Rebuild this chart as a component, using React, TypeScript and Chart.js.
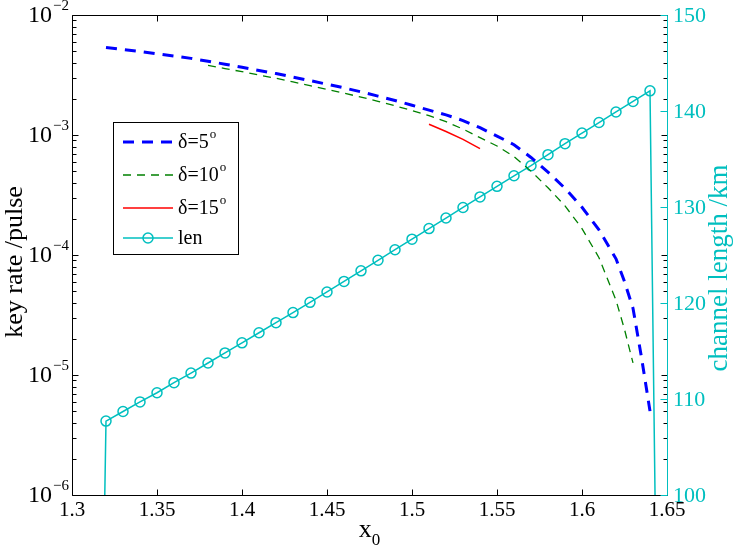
import React, { useEffect, useRef } from 'react';
import { Chart, registerables } from 'chart.js';

Chart.register(...registerables);

// ---------------- data ----------------
const x5 = [1.32, 1.33, 1.34, 1.35, 1.36, 1.37, 1.38, 1.39, 1.4, 1.41, 1.42, 1.43, 1.44, 1.45, 1.46, 1.47, 1.48, 1.49, 1.5, 1.51, 1.52, 1.53, 1.54, 1.55, 1.56, 1.57, 1.58, 1.59, 1.6, 1.61, 1.62, 1.625, 1.63, 1.635, 1.64];
const rate5 = [5.37e-3, 5.16e-3, 4.97e-3, 4.75e-3, 4.55e-3, 4.35e-3, 4.12e-3, 3.89e-3, 3.67e-3, 3.45e-3, 3.25e-3, 3.04e-3, 2.84e-3, 2.65e-3, 2.47e-3, 2.29e-3, 2.11e-3, 1.94e-3, 1.77e-3, 1.61e-3, 1.47e-3, 1.32e-3, 1.15e-3, 9.8e-4, 8.3e-4, 6.5e-4, 4.9e-4, 3.6e-4, 2.5e-4, 1.62e-4, 9.3e-5, 6.0e-5, 3.6e-5, 1.4e-5, 5.0e-6];

const x10 = [1.38, 1.39, 1.4, 1.41, 1.42, 1.43, 1.44, 1.45, 1.46, 1.47, 1.48, 1.49, 1.5, 1.51, 1.52, 1.53, 1.54, 1.55, 1.56, 1.57, 1.58, 1.59, 1.6, 1.61, 1.62, 1.625, 1.63];
const rate10 = [3.8e-3, 3.58e-3, 3.37e-3, 3.16e-3, 2.97e-3, 2.77e-3, 2.58e-3, 2.4e-3, 2.23e-3, 2.07e-3, 1.91e-3, 1.75e-3, 1.6e-3, 1.45e-3, 1.29e-3, 1.12e-3, 9.5e-4, 8.1e-4, 6.6e-4, 5.0e-4, 3.63e-4, 2.57e-4, 1.66e-4, 9.5e-5, 4.2e-5, 2.4e-5, 1.26e-5];

const x15 = [1.51, 1.52, 1.53, 1.54];
const rate15 = [1.23e-3, 1.07e-3, 9.2e-4, 7.7e-4];

const xLen = [1.31, 1.32, 1.33, 1.34, 1.35, 1.36, 1.37, 1.38, 1.39, 1.4, 1.41, 1.42, 1.43, 1.44, 1.45, 1.46, 1.47, 1.48, 1.49, 1.5, 1.51, 1.52, 1.53, 1.54, 1.55, 1.56, 1.57, 1.58, 1.59, 1.6, 1.61, 1.62, 1.63, 1.64, 1.65];
const lenKm = [0, 107.7, 108.7, 109.7, 110.65, 111.7, 112.7, 113.75, 114.8, 115.85, 116.9, 117.95, 119.0, 120.07, 121.15, 122.25, 123.35, 124.45, 125.55, 126.65, 127.75, 128.85, 129.95, 131.05, 132.15, 133.25, 134.3, 135.45, 136.6, 137.7, 138.8, 139.9, 141.0, 142.1, 0];

const xTicks = [1.3, 1.35, 1.4, 1.45, 1.5, 1.55, 1.6, 1.65];
const xTickLabels = ['1.3', '1.35', '1.4', '1.45', '1.5', '1.55', '1.6', '1.65'];
const logExponents = [-6, -5, -4, -3, -2];
const rightTicks = [100, 110, 120, 130, 140, 150];

const legendLabels = ['δ=5', 'δ=10', 'δ=15', 'len'];
const legendSups = ['o', 'o', 'o', ''];

// ---------------- styles ----------------
const BLUE = '#0000ff';
const GREEN = '#008000';
const RED = '#ff0000';
const CYAN = '#00bfbf';
const SERIF = '"Liberation Serif", "Times New Roman", serif';

const toXY = (xs: number[], ys: number[]) => xs.map((x, i) => ({ x, y: ys[i] }));

function textWithSup(
  ctx: CanvasRenderingContext2D,
  base: string,
  sup: string,
  x: number,
  y: number,
  align: 'left' | 'right',
  baseSize: number,
  supSize: number,
  supRaise: number
) {
  ctx.textBaseline = 'middle';
  ctx.textAlign = 'left';
  ctx.font = `${baseSize}px ${SERIF}`;
  const wb = ctx.measureText(base).width;
  ctx.font = `${supSize}px ${SERIF}`;
  const ws = sup ? ctx.measureText(sup).width : 0;
  const x0 = align === 'right' ? x - wb - ws - 1 : x;
  ctx.font = `${baseSize}px ${SERIF}`;
  ctx.fillText(base, x0, y);
  if (sup) {
    ctx.font = `${supSize}px ${SERIF}`;
    ctx.fillText(sup, x0 + wb + 1, y - supRaise);
  }
}

const matlabPlugin = {
  id: 'matlabAxes',
  afterDatasetsDraw(chart: any) {
    const { ctx, chartArea: a, scales } = chart;
    const xs = scales.x;
    const ys = scales.y;
    const y2 = scales.y2;
    const L = Math.round(a.left) + 0.5;
    const R = Math.round(a.right) + 0.5;
    const T = Math.round(a.top) + 0.5;
    const B = Math.round(a.bottom) + 0.5;
    ctx.save();

    // ---- legend ----
    const lx = 113.5, ly = 122.5, lw = 125, lh = 132;
    ctx.fillStyle = '#fff';
    ctx.fillRect(lx, ly, lw, lh);
    ctx.strokeStyle = '#000';
    ctx.lineWidth = 1;
    ctx.strokeRect(lx, ly, lw, lh);
    const rowY = [142, 175, 208, 238];
    const styles = [
      { c: BLUE, w: 3, d: [11, 8] },
      { c: GREEN, w: 1.3, d: [8, 6] },
      { c: RED, w: 1.5, d: [] as number[] },
      { c: CYAN, w: 1.5, d: [] as number[] },
    ];
    rowY.forEach((yy, i) => {
      const s = styles[i];
      ctx.strokeStyle = s.c;
      ctx.lineWidth = s.w;
      ctx.setLineDash(s.d);
      ctx.beginPath();
      ctx.moveTo(123, yy);
      ctx.lineTo(173, yy);
      ctx.stroke();
      ctx.setLineDash([]);
      if (i === 3) {
        ctx.lineWidth = 1.5;
        ctx.beginPath();
        ctx.arc(148, yy, 5, 0, Math.PI * 2);
        ctx.stroke();
      }
      ctx.fillStyle = '#000';
      textWithSup(ctx, legendLabels[i], legendSups[i], 178, yy + 1, 'left', 20, 13, 8);
    });

    // ---- box ----
    ctx.setLineDash([]);
    ctx.lineWidth = 1;
    ctx.strokeStyle = '#000';
    ctx.beginPath();
    ctx.moveTo(R, T);
    ctx.lineTo(L, T);
    ctx.lineTo(L, B);
    ctx.lineTo(R, B);
    ctx.stroke();

    // x ticks (bottom and top, inward)
    xTicks.forEach((v) => {
      const px = Math.round(xs.getPixelForValue(v)) + 0.5;
      ctx.beginPath();
      ctx.moveTo(px, B);
      ctx.lineTo(px, B - 6);
      ctx.moveTo(px, T);
      ctx.lineTo(px, T + 6);
      ctx.stroke();
    });

    // log ticks (left and mirrored right)
    logExponents.forEach((e) => {
      const py = Math.round(ys.getPixelForValue(Math.pow(10, e))) + 0.5;
      ctx.beginPath();
      ctx.moveTo(L, py);
      ctx.lineTo(L + 6, py);
      ctx.moveTo(R, py);
      ctx.lineTo(R - 6, py);
      ctx.stroke();
      if (e < -2) {
        for (let k = 2; k <= 9; k++) {
          const pm = Math.round(ys.getPixelForValue(k * Math.pow(10, e))) + 0.5;
          ctx.beginPath();
          ctx.moveTo(L, pm);
          ctx.lineTo(L + 4, pm);
          ctx.moveTo(R, pm);
          ctx.lineTo(R - 4, pm);
          ctx.stroke();
        }
      }
    });

    // right axis (cyan)
    ctx.strokeStyle = CYAN;
    ctx.beginPath();
    ctx.moveTo(R, T);
    ctx.lineTo(R, B);
    ctx.stroke();
    rightTicks.forEach((v) => {
      const py = Math.round(y2.getPixelForValue(v)) + 0.5;
      ctx.beginPath();
      ctx.moveTo(R, py);
      ctx.lineTo(R - 7, py);
      ctx.stroke();
    });

    // ---- tick labels ----
    ctx.fillStyle = '#000';
    ctx.font = `21px ${SERIF}`;
    ctx.textAlign = 'center';
    ctx.textBaseline = 'top';
    xTicks.forEach((v, i) => {
      ctx.fillText(xTickLabels[i], xs.getPixelForValue(v), a.bottom + 5);
    });

    logExponents.forEach((e) => {
      const py = ys.getPixelForValue(Math.pow(10, e));
      textWithSup(ctx, '10', '\u2212' + String(-e), a.left - 3, py + 1, 'right', 24, 15, 10);
    });

    ctx.fillStyle = CYAN;
    ctx.font = `22px ${SERIF}`;
    ctx.textAlign = 'left';
    ctx.textBaseline = 'middle';
    rightTicks.forEach((v) => {
      ctx.fillText(String(v), a.right + 6, y2.getPixelForValue(v) + 1);
    });

    // ---- axis titles ----
    ctx.fillStyle = '#000';
    ctx.save();
    ctx.translate(15, 262);
    ctx.rotate(-Math.PI / 2);
    ctx.font = `26px ${SERIF}`;
    ctx.textAlign = 'center';
    ctx.textBaseline = 'middle';
    ctx.fillText('key rate /pulse', 0, 0);
    ctx.restore();

    ctx.fillStyle = CYAN;
    ctx.save();
    ctx.translate(720, 268);
    ctx.rotate(-Math.PI / 2);
    ctx.font = `27px ${SERIF}`;
    ctx.textAlign = 'center';
    ctx.textBaseline = 'middle';
    ctx.fillText('channel length /km', 0, 0);
    ctx.restore();

    // x label: x with subscript 0
    ctx.fillStyle = '#000';
    const cx = (a.left + a.right) / 2;
    ctx.font = `26px ${SERIF}`;
    ctx.textAlign = 'left';
    ctx.textBaseline = 'middle';
    const wx = ctx.measureText('x').width;
    ctx.font = `17px ${SERIF}`;
    const w0 = ctx.measureText('0').width;
    const sx = cx - (wx + w0) / 2;
    ctx.font = `26px ${SERIF}`;
    ctx.fillText('x', sx, 530);
    ctx.font = `17px ${SERIF}`;
    ctx.fillText('0', sx + wx, 541);

    ctx.restore();
  },
};

export default function App() {
  const ref = useRef<HTMLCanvasElement>(null);

  useEffect(() => {
    if (!ref.current) return;
    const chart = new Chart(ref.current, {
      type: 'line',
      data: {
        datasets: [
          {
            label: 'δ=5°',
            data: toXY(x5, rate5),
            yAxisID: 'y',
            borderColor: BLUE,
            borderWidth: 3,
            borderDash: [11, 8],
            pointRadius: 0,
            fill: false,
            tension: 0,
          },
          {
            label: 'δ=10°',
            data: toXY(x10, rate10),
            yAxisID: 'y',
            borderColor: GREEN,
            borderWidth: 1.3,
            borderDash: [8, 6],
            pointRadius: 0,
            fill: false,
            tension: 0,
          },
          {
            label: 'δ=15°',
            data: toXY(x15, rate15),
            yAxisID: 'y',
            borderColor: RED,
            borderWidth: 1.5,
            pointRadius: 0,
            fill: false,
            tension: 0,
          },
          {
            label: 'len',
            data: toXY(xLen, lenKm),
            yAxisID: 'y2',
            borderColor: CYAN,
            borderWidth: 1.5,
            pointRadius: 5,
            pointBorderWidth: 1.5,
            pointBorderColor: CYAN,
            pointBackgroundColor: 'rgba(0,0,0,0)',
            fill: false,
            tension: 0,
          },
        ],
      },
      options: {
        animation: false,
        responsive: false,
        devicePixelRatio: 1,
        events: [],
        layout: { padding: { left: 72, right: 66, top: 15, bottom: 58 } },
        plugins: { legend: { display: false }, tooltip: { enabled: false } },
        scales: {
          x: { type: 'linear', min: 1.3, max: 1.65, display: false },
          y: { type: 'logarithmic', min: 1e-6, max: 1e-2, display: false },
          y2: { type: 'linear', min: 100, max: 150, display: false },
        },
      },
      plugins: [matlabPlugin],
    });
    return () => chart.destroy();
  }, []);

  return (
    <div style={{ position: 'fixed', left: 0, top: 0, width: 733, height: 553, background: '#fff' }}>
      <canvas ref={ref} width={733} height={553} style={{ display: 'block', width: 733, height: 553 }} />
    </div>
  );
}
